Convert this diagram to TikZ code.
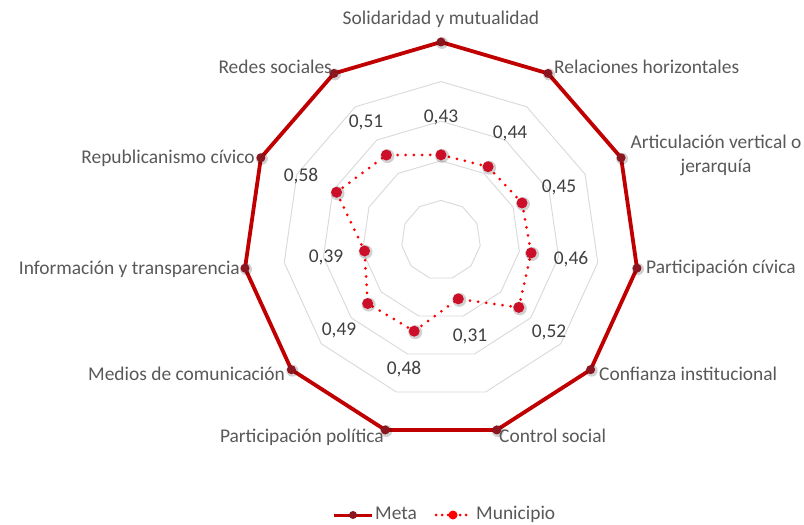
\documentclass[tikz,border=0pt]{standalone}
\usepackage{fontspec}
\setmainfont{Carlito}
\definecolor{metac}{RGB}{192,0,0}
\definecolor{metamark}{RGB}{140,22,32}
\definecolor{munic}{RGB}{255,0,0}
\definecolor{munimark}{RGB}{205,14,40}
\definecolor{txtc}{RGB}{89,89,89}
\definecolor{valc}{RGB}{64,64,64}
\definecolor{gridc}{RGB}{217,217,217}
\tikzset{
  gridline/.style={draw=gridc, line width=0.9bp},
  metaline/.style={draw=metac, line width=3.8bp, line join=miter},
  muniline/.style={draw=munic, line width=3bp, line cap=round, dash pattern=on 0bp off 8.2bp},
  metamk/.style={circle, fill=metamark, inner sep=0pt, minimum size=9bp},
  munimk/.style={circle, fill=munimark, inner sep=0pt, minimum size=11bp},
  halo/.style={circle, fill=black, opacity=0.18, inner sep=0pt, minimum size=14bp},
  cat/.style={text=txtc, inner sep=1bp},
  val/.style={text=valc, inner sep=1bp},
}
\begin{document}
\begin{tikzpicture}[x=1bp,y=-1bp,font=\fontsize{19.5}{23.5}\selectfont]
\useasboundingbox[fill=white] (0,0) rectangle (804,525);
\def\R{198}
\def\cx{441}
\def\cy{240}
% grid rings
\foreach \f in {0.2,0.4,0.6,0.8}{
  \draw[gridline] (\cx,{\cy-\f*\R})
    \foreach \k in {1,...,10}{ -- ({\cx+\f*\R*sin(\k*360/11)},{\cy-\f*\R*cos(\k*360/11)}) } -- cycle;
}
% axis end points (Meta = 1)
\foreach \k in {0,...,10}{
  \coordinate (a\k) at ({\cx+\R*sin(\k*360/11)},{\cy-\R*cos(\k*360/11)});
}
% Municipio values
\foreach \v [count=\i from 0] in {0.43,0.44,0.45,0.46,0.52,0.31,0.48,0.49,0.39,0.58,0.51}{
  \coordinate (m\i) at ({\cx+\v*\R*sin(\i*360/11)},{\cy-\v*\R*cos(\i*360/11)});
}
% Meta polygon
\draw[metaline] (a0) -- (a1) -- (a2) -- (a3) -- (a4) -- (a5) -- (a6) -- (a7) -- (a8) -- (a9) -- (a10) -- cycle;
\foreach \k in {0,...,10}{
  \node[halo, minimum size=12bp] at ([xshift=1bp,yshift=-1bp]a\k) {};
  \node[metamk] (am\k) at (a\k) {};
}
% Municipio polygon
\draw[muniline] (m0) -- (m1) -- (m2) -- (m3) -- (m4) -- (m5) -- (m6) -- (m7) -- (m8) -- (m9) -- (m10) -- cycle;
\foreach \k in {0,...,10}{
  \node[halo] at ([xshift=1bp,yshift=-1bp]m\k) {};
  \node[munimk] (mm\k) at (m\k) {};
}
% category labels
\node[cat, anchor=mid] (c0) at (441,22) {Solidaridad y mutualidad};
\node[cat, anchor=mid west] (c1) at (553,71) {Relaciones horizontales};
\node[cat, anchor=mid, align=center] (c2) at (716,170) {Articulación vertical o\\jerarquía};
\node[cat, anchor=mid west] (c3) at (645,271) {Participación cívica};
\node[cat, anchor=mid west] (c4) at (598,378) {Confianza institucional};
\node[cat, anchor=mid west] (c5) at (498,440) {Control social};
\node[cat, anchor=mid east] (c6) at (385,440) {Participación política};
\node[cat, anchor=mid east] (c7) at (286,378) {Medios de comunicación};
\node[cat, anchor=mid east] (c8) at (241,272) {Información y transparencia};
\node[cat, anchor=mid east] (c9) at (256,161) {Republicanismo cívico};
\node[cat, anchor=mid east] (c10) at (333,71) {Redes sociales};
% value labels
\node[val, anchor=mid] (v0) at (441,120) {0,43};
\node[val, anchor=mid] (v1) at (510,136) {0,44};
\node[val, anchor=mid] (v2) at (559,190) {0,45};
\node[val, anchor=mid] (v3) at (571,262) {0,46};
\node[val, anchor=mid] (v4) at (549,335) {0,52};
\node[val, anchor=mid] (v5) at (470,339) {0,31};
\node[val, anchor=mid] (v6) at (404,372) {0,48};
\node[val, anchor=mid] (v7) at (339,333) {0,49};
\node[val, anchor=mid] (v8) at (326,260) {0,39};
\node[val, anchor=mid] (v9) at (301,179) {0,58};
\node[val, anchor=mid] (v10) at (366,125) {0,51};
% legend
\coordinate (lm1) at (334,515);
\coordinate (lm2) at (372,515);
\draw[metaline, line width=3bp] (lm1) -- (lm2);
\node[metamk, minimum size=8bp] (lmk) at (353,515) {};
\node[cat, anchor=mid west] (lmeta) at (374,517) {Meta};
\coordinate (lu1) at (436,515);
\coordinate (lu2) at (471,515);
\draw[muniline, dash pattern=on 0bp off 6bp] (lu1) -- (lu2);
\node[circle, fill=munic, inner sep=0pt, minimum size=9bp] (lumk) at (453,515) {};
\node[cat, anchor=mid west] (lmuni) at (475,517) {Municipio};
\end{tikzpicture}
\end{document}
